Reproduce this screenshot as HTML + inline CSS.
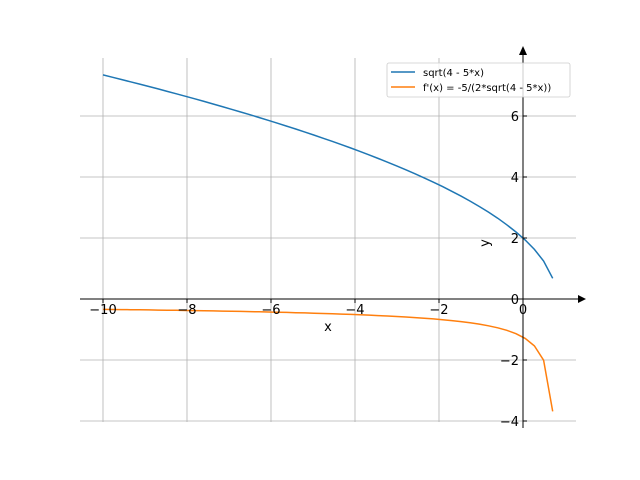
<!DOCTYPE html>
<html><head><meta charset="utf-8"><style>body{margin:0;background:#fff}svg{display:block}text{font-family:"DejaVu Sans","Liberation Sans",sans-serif}</style></head>
<body>
<svg id="s" width="640" height="480" xmlns="http://www.w3.org/2000/svg">
<g stroke="#b0b0b0" stroke-width="0.8">
<line x1="103" y1="58" x2="103" y2="422"/><line x1="187" y1="58" x2="187" y2="422"/><line x1="271" y1="58" x2="271" y2="422"/><line x1="355" y1="58" x2="355" y2="422"/><line x1="439" y1="58" x2="439" y2="422"/><line x1="523" y1="58" x2="523" y2="422"/>
<line x1="80" y1="421" x2="576" y2="421"/><line x1="80" y1="360" x2="576" y2="360"/><line x1="80" y1="238" x2="576" y2="238"/><line x1="80" y1="177" x2="576" y2="177"/><line x1="80" y1="116" x2="576" y2="116"/>
</g>
<path id="p1" fill="none" stroke="#1f77b4" stroke-width="1.5"/>
<path id="p2" fill="none" stroke="#ff7f0e" stroke-width="1.5"/>
<g stroke="#000" stroke-width="1">
<line x1="80" y1="299" x2="580" y2="299"/><line x1="523" y1="52" x2="523" y2="428"/>
<line x1="103" y1="299" x2="103" y2="303"/><line x1="187" y1="299" x2="187" y2="303"/><line x1="271" y1="299" x2="271" y2="303"/><line x1="355" y1="299" x2="355" y2="303"/><line x1="439" y1="299" x2="439" y2="303"/><line x1="523" y1="299" x2="523" y2="303"/>
<line x1="523" y1="421" x2="527" y2="421"/><line x1="523" y1="360" x2="527" y2="360"/><line x1="523" y1="238" x2="527" y2="238"/><line x1="523" y1="177" x2="527" y2="177"/><line x1="523" y1="116" x2="527" y2="116"/>
</g>
<polygon points="586,299 578,295 578,303" fill="#000"/>
<polygon points="523,46 519,55 527,55" fill="#000"/>
<g font-size="13" text-anchor="middle" fill="#000">
<text x="103" y="314">−10</text><text x="187" y="314">−8</text><text x="271" y="314">−6</text><text x="355" y="314">−4</text><text x="439" y="314">−2</text><text x="523" y="314">0</text>
</g>
<g font-size="13" text-anchor="end" fill="#000">
<text x="519" y="426">−4</text><text x="519" y="365">−2</text><text x="519" y="304">0</text><text x="519" y="243">2</text><text x="519" y="182">4</text><text x="519" y="121">6</text>
</g>
<text x="328" y="331" font-size="13" text-anchor="middle">x</text>
<text x="0" y="0" font-size="13" text-anchor="middle" transform="translate(489,243) rotate(-90)">y</text>
<rect x="387" y="63" width="183" height="34" rx="2" fill="#fff" fill-opacity="0.8" stroke="#ccc" stroke-width="0.8"/>
<line x1="391" y1="72" x2="415" y2="72" stroke="#1f77b4" stroke-width="1.5"/>
<line x1="391" y1="87" x2="415" y2="87" stroke="#ff7f0e" stroke-width="1.5"/>
<text x="423" y="76" font-size="10">sqrt(4 - 5*x)</text>
<text x="423" y="91" font-size="10">f'(x) = -5/(2*sqrt(4 - 5*x))</text>
</svg>
<script>
var a="",b="";for(var i=0;i<50;i++){var x=-10+i*(10.708/49);var f=Math.sqrt(4-5*x),d=-5/(2*f);var px=523+42*x;a+=(i?"L":"M")+px.toFixed(1)+","+(299-30.5*f).toFixed(1);b+=(i?"L":"M")+px.toFixed(1)+","+(299-30.5*d).toFixed(1);}
document.getElementById("p1").setAttribute("d",a);document.getElementById("p2").setAttribute("d",b);
</script>
</body></html>
